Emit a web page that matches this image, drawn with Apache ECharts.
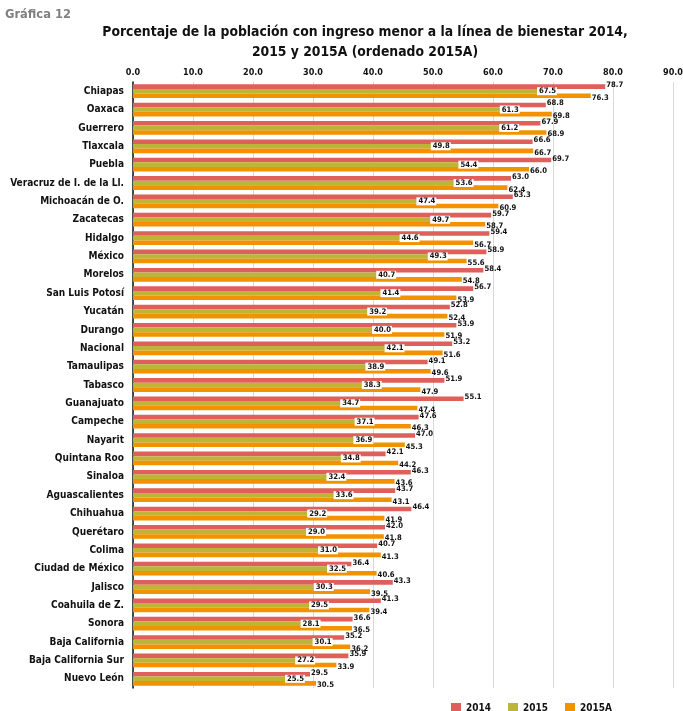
<!DOCTYPE html>
<html>
<head>
<meta charset="utf-8">
<script src="https://cdn.jsdelivr.net/npm/echarts@6/dist/echarts.min.js"></script>
<style>
html,body{margin:0;padding:0;background:#fff;}
#c{width:683px;height:711px;}
</style>
</head>
<body>
<div id="c"></div>
<script>
const categories = ["Chiapas","Oaxaca","Guerrero","Tlaxcala","Puebla","Veracruz de I. de la Ll.","Michoacán de O.","Zacatecas","Hidalgo","México","Morelos","San Luis Potosí","Yucatán","Durango","Nacional","Tamaulipas","Tabasco","Guanajuato","Campeche","Nayarit","Quintana Roo","Sinaloa","Aguascalientes","Chihuahua","Querétaro","Colima","Ciudad de México","Jalisco","Coahuila de Z.","Sonora","Baja California","Baja California Sur","Nuevo León"];
const values2014 = [78.7,68.8,67.9,66.6,69.7,63.0,63.3,59.7,59.4,58.9,58.4,56.7,52.8,53.9,53.2,49.1,51.9,55.1,47.6,47.0,42.1,46.3,43.7,46.4,42.0,40.7,36.4,43.3,41.3,36.6,35.2,35.9,29.5];
const values2015 = [67.5,61.3,61.2,49.8,54.4,53.6,47.4,49.7,44.6,49.3,40.7,41.4,39.2,40.0,42.1,38.9,38.3,34.7,37.1,36.9,34.8,32.4,33.6,29.2,29.0,31.0,32.5,30.3,29.5,28.1,30.1,27.2,25.5];
const values2015A = [76.3,69.8,68.9,66.7,66.0,62.4,60.9,58.7,56.7,55.6,54.8,53.9,52.4,51.9,51.6,49.6,47.9,47.4,46.3,45.3,44.2,43.6,43.1,41.9,41.8,41.3,40.6,39.5,39.4,36.5,36.2,33.9,30.5];
const seriesNames = ["2014","2015","2015A"];
const tickMin = 0, tickMax = 90, tickStep = 10;
const titleLines = ["Porcentaje de la población con ingreso menor a la línea de bienestar 2014,", "2015 y 2015A (ordenado 2015A)"];
const kicker = "Gráfica 12";

// ---- font selection / text sizing by measurement ----
const cv = document.createElement('canvas').getContext('2d');
function hasFont(f){
  const s = 'Porcentaje 0123456789 Ll.';
  for (const base of ['monospace','serif']) {
    cv.font = `bold 40px ${base}`; const w0 = cv.measureText(s).width;
    cv.font = `bold 40px "${f}", ${base}`; const w1 = cv.measureText(s).width;
    if (Math.abs(w0-w1) > 0.5) return true;
  }
  return false;
}
const cands = ["Liberation Sans Narrow","Arial Narrow","DejaVu Sans Condensed","Roboto Condensed","Open Sans Condensed","Roboto"];
let fam = "Roboto";
for (const f of cands) { if (hasFont(f)) { fam = f; break; } }
const FONT = `"${fam}", "Roboto", sans-serif`;
function fit(text, target){
  cv.font = `bold 100px ${FONT}`;
  return 100 * target / cv.measureText(text).width;
}
const titleSize = Math.min(20, fit(titleLines[0], 526));
const catSize = Math.min(13, fit("Veracruz de I. de la Ll.", 114));
const tickSize = Math.min(12, fit("10.0", 20));
const valSize = Math.min(11.5, fit("78.7", 17));
const legSize = Math.min(12.5, fit("2014", 25));
const kickSize = Math.min(13, fit(kicker, 66));
cv.font = `bold ${legSize}px ${FONT}`;
const legGap = 57 - 10 - 5 - cv.measureText("2014").width;

const colors = ['#DF5F5B','#BDB535','#F39200'];
const chart = echarts.init(document.getElementById('c'), null, {renderer:'canvas'});
const lbl = (extra) => Object.assign({
  show:true, position:'right', distance:1, color:'#111', fontFamily:FONT, fontWeight:'bold', fontSize:valSize,
  formatter: p => p.value.toFixed(1)
}, extra);
chart.setOption({
  animation:false,
  backgroundColor:'#fff',
  color: colors,
  title:[
    {text:kicker, left:0, top:3, textStyle:{fontFamily:FONT, fontWeight:'bold', fontSize:kickSize, color:'#808080'}},
    {text:titleLines.join('\n'), left:360, top:17, textAlign:'center',
     textStyle:{fontFamily:FONT, fontWeight:'bold', fontSize:titleSize, lineHeight:20, color:'#111'}}
  ],
  legend:{
    data: seriesNames, left:446, top:698, icon:'rect', itemWidth:10, itemHeight:10, itemGap:legGap,
    textStyle:{fontFamily:FONT, fontWeight:'bold', fontSize:legSize, color:'#111'}
  },
  grid:{left:133, right:10, top:82, bottom:23, containLabel:false, outerBoundsMode:'none'},
  xAxis:{
    type:'value', position:'top', min:tickMin, max:tickMax, interval:tickStep,
    axisLine:{show:false}, axisTick:{show:false},
    axisLabel:{margin:5, fontFamily:FONT, fontWeight:'bold', fontSize:tickSize, color:'#111', formatter:v=>v.toFixed(1)},
    splitLine:{show:true, lineStyle:{color:'#D9D9D9', width:1}}
  },
  yAxis:{
    type:'category', data:categories, inverse:true,
    axisLine:{show:true, lineStyle:{color:'#111', width:1.5}}, axisTick:{show:false},
    axisLabel:{margin:9, fontFamily:FONT, fontWeight:'bold', fontSize:catSize, color:'#111'}
  },
  series:[
    {name:seriesNames[0], type:'bar', data:values2014, barGap:'0%', barCategoryGap:'25%',
     label:lbl({offset:[0,-1.5]})},
    {name:seriesNames[1], type:'bar', data:values2015, barGap:'0%', barCategoryGap:'25%',
     label:lbl({backgroundColor:'#fff', padding:[0,1,0,2], distance:-1})},
    {name:seriesNames[2], type:'bar', data:values2015A, barGap:'0%', barCategoryGap:'25%',
     label:lbl({offset:[0,2]})}
  ]
});
</script>
</body>
</html>
